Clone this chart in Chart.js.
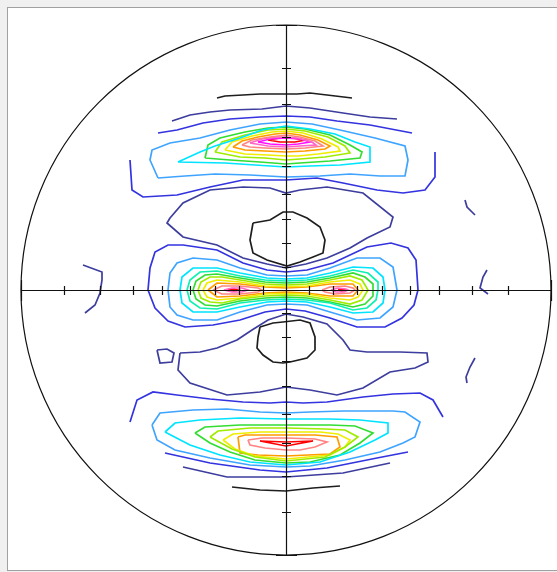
<!DOCTYPE html>
<html>
<head>
<meta charset="utf-8">
<script src="https://cdn.jsdelivr.net/npm/chart.js@4/dist/chart.umd.min.js"></script>
<style>
  body { margin: 0; background: #f0f0f0; }
  #frame { position: absolute; left: 7px; top: 7px; width: 560px; height: 562px;
           background: #fff; border: 1px solid #a0a0a0; }
  #pole { position: absolute; left: 0; top: 0; }
</style>
</head>
<body>
<div id="frame"></div>
<canvas id="pole" width="557" height="572"></canvas>
<script>
// Projection radius (data units) and tilt ticks, stereographic, every 10 degrees
const R = 265;
const tiltTicks = [10, 20, 30, 40, 50, 60, 70, 80, 90];

// Contour level colours, lowest to highest
const levelColors = [
    "#1e1e1e", // 0 black
    "#3d3d9e", // 1 navy
    "#3333e0", // 2 blue
    "#3f7fff", // 3 mid blue
    "#3fa4ff", // 4 light blue
    "#00e4ff", // 5 cyan
    "#10f0b0", // 6 aqua
    "#33dd33", // 7 green
    "#a0ec00", // 8 lime
    "#f0ee00", // 9 yellow
    "#ff9c00", // 10 orange
    "#ff8484", // 11 salmon
    "#ff66c8", // 12 pink
    "#ff10ff", // 13 magenta
    "#ff0000"  // 14 red
];

// Contours as [level, closed, x0,y0, x1,y1, ...] in projection units (centre = 0,0)
const topLobe = [
    [0, false, [-69,192, -61,194, -43,195, -26,196, -1,196, 11,196, 24,197, 41,195, 66,192]],
    [1, false, [-114,169, -96,175, -76,178, -56,180, -24,181, 0,184, 24,182, 57,177, 84,173, 111,171]],
    [2, false, [-128,157, -109,160, -83,167, -56,171, -26,173, 0,174, 24,173, 51,169, 84,165, 126,157]],
    [4, true, [-128,112, -136,130, -134,140, -116,147, -86,152, -56,160, -26,166, 0,168, 26,166, 54,160, 89,152, 119,144, 122,130, 119,114, 94,114, 64,116, 34,114, 0,113, -36,115, -71,116, -101,114]],
    [5, true, [-108,128, -86,138, -71,144, -46,152, -24,160, 0,164, 24,161, 49,156, 69,148, 84,143, 84,128, 54,125, 24,124, 0,123, -31,125, -61,127]],
    [7, true, [-81,132, -78,145, -66,152, -41,158, -18,162, 0,163, 19,161, 44,155, 64,145, 76,138, 74,132, 44,129, 14,127, 0,126, -26,128, -56,130]],
    [8, true, [-71,138, -64,148, -41,155, -18,160, 0,161, 19,159, 42,153, 59,144, 64,137, 39,133, 14,131, 0,130, -21,132, -46,133]],
    [9, true, [-61,140, -54,148, -34,154, -14,158, 0,159, 17,157, 36,151, 52,143, 54,139, 32,136, 12,134, 0,134, -18,135, -41,136]],
    [10, true, [-53,143, -44,149, -28,153, -11,156, 0,157, 14,155, 32,150, 44,144, 39,141, 19,139, 0,138, -21,139, -41,140]],
    [11, true, [-44,145, -34,150, -16,153, 0,155, 14,153, 29,149, 37,144, 19,142, 0,141, -21,142, -36,143]],
    [12, true, [-36,147, -24,151, -8,153, 0,153, 12,152, 26,148, 30,145, 14,144, 0,143, -18,144]],
    [13, true, [-28,148, -16,151, 0,152, 14,151, 24,148, 12,146, 0,145, -16,146]],
    [14, true, [-18,150, -6,152, 6,152, 19,150, 9,148, -6,148]]
];

const upperHole = [
    [2, false, [-156,130, -154,100, -143,93, -109,95, -76,103, -43,110, 0,110, 31,112, 57,107, 91,100, 117,97, 139,100, 149,113, 149,138]],
    [1, true, [-116,72, -103,87, -76,100, -43,103, -16,102, 0,97, 14,100, 41,103, 77,97, 107,73, 104,63, 81,52, 64,42, 41,32, 20,26, 0,22, -19,26, -43,32, -69,45, -103,53, -119,67]],
    [0, true, [-33,67, -16,70, -3,78, 7,78, 21,72, 34,63, 39,50, 37,37, 27,33, 14,28, 1,24, -19,30, -33,37, -36,50]]
];

const middleLobe = [
    [2, true, [-138,0, -136,22, -131,38, -118,45, -103,45, -69,40, -43,27, -19,20, 0,18, 21,20, 47,27, 81,43, 105,47, 122,42, 130,30, 132,0, 128,-15, 116,-28, 99,-37, 71,-37, 44,-28, 19,-21, 0,-19, -21,-22, -46,-30, -73,-35, -101,-37, -118,-31, -131,-18]],
    [4, true, [-118,0, -116,17, -109,27, -93,32, -69,30, -46,22, -19,15, 0,14, 21,15, 44,22, 71,32, 94,32, 107,23, 111,0, 107,-17, 94,-28, 71,-30, 44,-22, 21,-15, 0,-14, -19,-15, -46,-22, -69,-30, -93,-30, -109,-25, -116,-17]],
    [5, true, [-106,0, -104,13, -93,22, -69,22, -46,17, -19,12, 0,11, 21,12, 44,17, 67,23, 87,22, 97,13, 99,0, 97,-13, 87,-22, 67,-23, 44,-17, 21,-12, 0,-11, -19,-12, -46,-17, -69,-22, -93,-22, -104,-13]],
    [6, true, [-99,0, -96,10, -86,18, -69,19, -46,14, -21,10, 0,9, 21,10, 44,14, 67,20, 82,17, 92,8, 92,0, 90,-10, 81,-18, 67,-20, 44,-13, 21,-10, 0,-9, -21,-10, -46,-13, -69,-19, -86,-18, -96,-11]],
    [7, true, [-93,0, -90,9, -81,15, -69,16, -46,12, -21,8, 0,7, 21,8, 44,12, 67,17, 79,13, 87,6, 87,-6, 79,-14, 67,-17, 44,-12, 21,-8, 0,-7, -21,-8, -46,-11, -69,-16, -81,-15, -90,-9]],
    [8, true, [-88,0, -85,8, -76,13, -64,13, -46,10, -21,6, 0,5, 21,6, 44,10, 64,14, 76,10, 82,0, 76,-10, 64,-14, 44,-10, 21,-6, 0,-5, -21,-6, -46,-9, -64,-13, -76,-12, -85,-8]],
    [9, true, [-83,0, -79,7, -69,10, -46,8, -21,4, 0,3.5, 21,4, 44,8, 64,10, 74,6, 77,0, 72,-7, 64,-10, 44,-8, 21,-4, 0,-3.5, -21,-4, -46,-8, -69,-10, -79,-7]],
    [10, true, [-78,0, -69,7, -46,6, -21,3, 0,2, 21,3, 44,6, 67,6, 72,0, 67,-6, 44,-6, 21,-3, 0,-2, -21,-3, -46,-6, -69,-7]],
    [11, true, [-73,0, -64,4, -46,4, -28,2, -24,0, -28,-2, -46,-4, -64,-4]],
    [11, true, [36,0, 44,3, 59,4, 67,2, 69,0, 64,-3, 49,-4, 39,-2]],
    [12, true, [-62,0, -54,2, -44,2, -38,0, -44,-2, -54,-2]],
    [12, true, [45,0, 52,2, 60,1, 62,0, 58,-2, 50,-2]],
    [14, true, [-58,0.5, -52,1, -48,0, -52,-1]],
    [14, true, [52,0, 56,1, 59,0, 56,-1]]
];

const lowerHole = [
    [0, true, [-26,-37, -13,-33, -3,-32, 14,-30, 24,-33, 29,-47, 29,-60, 21,-68, 4,-72, -3,-73, -13,-72, -23,-65, -29,-58, -28,-47]],
    [1, true, [-106,-63, -86,-62, -69,-58, -49,-50, -34,-40, -18,-30, 0,-24, 17,-27, 41,-34, 57,-50, 64,-60, 81,-62, 114,-62, 141,-63, 142,-72, 129,-78, 104,-82, 77,-98, 51,-105, 24,-100, 0,-97, -26,-102, -59,-105, -96,-93, -108,-80]],
    [1, true, [-129,-60, -119,-59, -112,-63, -114,-72, -126,-73]]
];

const bottomLobe = [
    [2, false, [-156,-132, -149,-110, -133,-102, -109,-105, -76,-109, -43,-112, -16,-113, 0,-112, 17,-113, 41,-112, 77,-107, 107,-104, 134,-103, 147,-110, 157,-127]],
    [4, true, [-134,-135, -126,-123, -93,-120, -59,-119, -26,-122, 0,-123, 24,-122, 57,-121, 107,-121, 119,-122, 134,-132, 129,-147, 117,-153, 94,-162, 59,-170, 24,-176, 0,-177, -36,-175, -76,-168, -111,-160, -129,-150]],
    [5, true, [-121,-142, -111,-133, -86,-130, -46,-128, 0,-129, 44,-129, 74,-130, 102,-133, 102,-143, 89,-150, 64,-162, 34,-172, 0,-175, -36,-172, -66,-165, -96,-155]],
    [7, true, [-91,-143, -81,-137, -46,-135, 0,-135, 44,-135, 69,-136, 87,-143, 74,-153, 54,-165, 24,-172, 0,-173, -31,-170, -56,-162, -76,-153]],
    [8, true, [-76,-147, -68,-141, -36,-138, 0,-138, 39,-139, 59,-140, 72,-147, 59,-157, 39,-167, 0,-171, -31,-167, -54,-159]],
    [9, true, [-63,-150, -53,-144, -26,-142, 0,-142, 34,-142, 52,-144, 64,-150, 59,-157, 44,-165, 0,-169, -31,-166, -51,-159]],
    [10, true, [-48,-147, -41,-145, -21,-145, 0,-145, 29,-145, 51,-147, 54,-157, 44,-164, 0,-166, -28,-165, -46,-163]],
    [11, true, [-38,-150, -24,-148, 0,-148, 29,-149, 41,-152, 29,-157, 14,-160, 0,-160, -21,-158, -36,-155]],
    [14, true, [-26,-151, 0,-152, 27,-151, 0,-156]],
    [2, false, [-121,-163, -76,-173, -26,-180, 0,-182, 41,-178, 91,-168, 122,-162]],
    [1, false, [-103,-177, -59,-187, 0,-187, 57,-183, 104,-173]],
    [0, false, [-54,-197, -26,-200, 0,-201, 27,-198, 54,-196]]
];

const edgeBits = [
    [1, false, [-203,25, -184,18, -184,10, -186,-3, -191,-15, -201,-23]],
    [1, false, [179,90, 181,83, 189,75]],
    [1, false, [201,20, 197,13, 194,2, 202,-4]],
    [1, false, [189,-68, 184,-77, 180,-87, 181,-93]]
];

// Build one line dataset per contour
const allContours = [].concat(topLobe, upperHole, middleLobe, lowerHole, bottomLobe, edgeBits);
const datasets = allContours.map(function (c) {
    const pts = [];
    for (let i = 0; i < c[2].length; i += 2) pts.push({ x: c[2][i], y: c[2][i + 1] });
    if (c[1]) pts.push(pts[0]);
    return {
        data: pts,
        showLine: true,
        borderColor: levelColors[c[0]],
        borderWidth: 1.7,
        pointRadius: 0,
        fill: false,
        tension: 0
    };
});

// Circle, cross axes and stereographic tilt ticks
const poleFrame = {
    id: "poleFrame",
    afterDatasetsDraw(chart) {
        const ctx = chart.ctx;
        const xs = chart.scales.x, ys = chart.scales.y;
        const cx = xs.getPixelForValue(0), cy = ys.getPixelForValue(0);
        const rp = xs.getPixelForValue(R) - cx;
        ctx.save();
        ctx.strokeStyle = "#111";
        ctx.lineWidth = 1.2;
        ctx.beginPath();
        ctx.arc(cx, cy, rp, 0, Math.PI * 2);
        ctx.stroke();
        ctx.beginPath();
        ctx.moveTo(xs.getPixelForValue(-R), cy + 0.5);
        ctx.lineTo(xs.getPixelForValue(R), cy + 0.5);
        ctx.moveTo(cx + 0.5, ys.getPixelForValue(R));
        ctx.lineTo(cx + 0.5, ys.getPixelForValue(-R));
        tiltTicks.forEach(function (t) {
            const r = R * Math.tan(t / 2 * Math.PI / 180);
            const half = t === 90 ? 10 : 4;   // outer rim gets a wider cap
            [-r, r].forEach(function (v) {
                const px = Math.round(xs.getPixelForValue(v)) + 0.5;
                const py = Math.round(ys.getPixelForValue(v)) + 0.5;
                ctx.moveTo(px, cy - half); ctx.lineTo(px, cy + half + 1);
                ctx.moveTo(cx - half, py); ctx.lineTo(cx + half + 1, py);
            });
        });
        ctx.stroke();
        ctx.restore();
    }
};

new Chart(document.getElementById("pole"), {
    type: "scatter",
    data: { datasets: datasets },
    options: {
        responsive: false,
        animation: false,
        layout: { padding: { left: 21, right: 6, top: 25, bottom: 17 } },
        scales: {
            x: { type: "linear", min: -R, max: R, display: false },
            y: { type: "linear", min: -R, max: R, display: false }
        },
        plugins: { legend: { display: false }, tooltip: { enabled: false } }
    },
    plugins: [poleFrame]
});
</script>
</body>
</html>
